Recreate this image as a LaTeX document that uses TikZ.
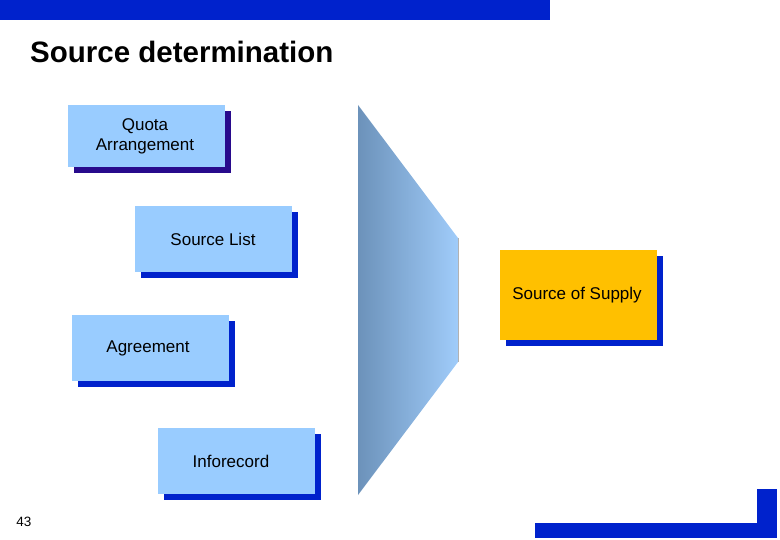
\documentclass[tikz,border=0pt]{standalone}
\usepackage{fontspec}
\setmainfont{Liberation Sans}
\usetikzlibrary{positioning}
\definecolor{barblue}{RGB}{0, 34, 204}
\definecolor{navyshade}{RGB}{40, 10, 140}
\definecolor{boxblue}{RGB}{153, 204, 255}
\definecolor{supplygold}{RGB}{255, 192, 0}
\definecolor{funneldark}{RGB}{108, 146, 186}
\definecolor{funnellight}{RGB}{160, 204, 250}
\tikzset{
    srcbox/.style={
        rectangle, minimum width=157pt, minimum height=64pt,
        fill=boxblue, inner sep=0pt
    },
    goldbox/.style={srcbox, fill=supplygold, minimum height=90pt},
    boxtext/.style={font=\fontsize{17}{20}\selectfont, align=center},
}
\begin{document}
\begin{tikzpicture}[x=1pt, y=-1pt]
    \useasboundingbox (0,0) rectangle (780,540);
    % header bar and title
    \fill[barblue] (0,0) rectangle (550,20);
    \node[anchor=west, inner sep=0pt, font=\fontsize{29.5}{34}\bfseries\selectfont] (title) at (30,52) {Source determination};

    % funnel
    \shade[left color=funneldark, right color=funnellight]
        (358,105) -- (458,238) -- (458,362) -- (358,495) -- cycle;
    \draw[gray!60, line width=0.6pt] (458,238) -- (458,362);

    % shadows
    \fill[navyshade] (74,111) rectangle (231,173);
    \fill[barblue] (141,212) rectangle (298,278);
    \fill[barblue] (78,321) rectangle (235,387);
    \fill[barblue] (164,434) rectangle (321,500);
    \fill[barblue] (506,256) rectangle (663,346);

    % boxes
    \node[srcbox, minimum height=62pt] (quota) at (146.5,136) {};
    \node[boxtext] at (145,136) {Quota\\Arrangement};
    \node[srcbox, minimum height=66pt] (list) at (213.5,239) {};
    \node[boxtext] at (213,239) {Source List};
    \node[srcbox, minimum height=66pt] (agreement) at (150.5,348) {};
    \node[boxtext] at (148,348) {Agreement};
    \node[srcbox, minimum height=66pt] (inforecord) at (236.5,461) {};
    \node[boxtext] at (231,461) {Inforecord};
    \node[goldbox] (supply) at (578.5,295) {};
    \node[boxtext] at (577,295) {Source of Supply};

    % footer
    \fill[barblue] (535,523) rectangle (777,538);
    \fill[barblue] (757,489) rectangle (777,538);
    \node[font=\fontsize{13.5}{16}\selectfont] (page) at (24,522) {43};
\end{tikzpicture}
\end{document}
